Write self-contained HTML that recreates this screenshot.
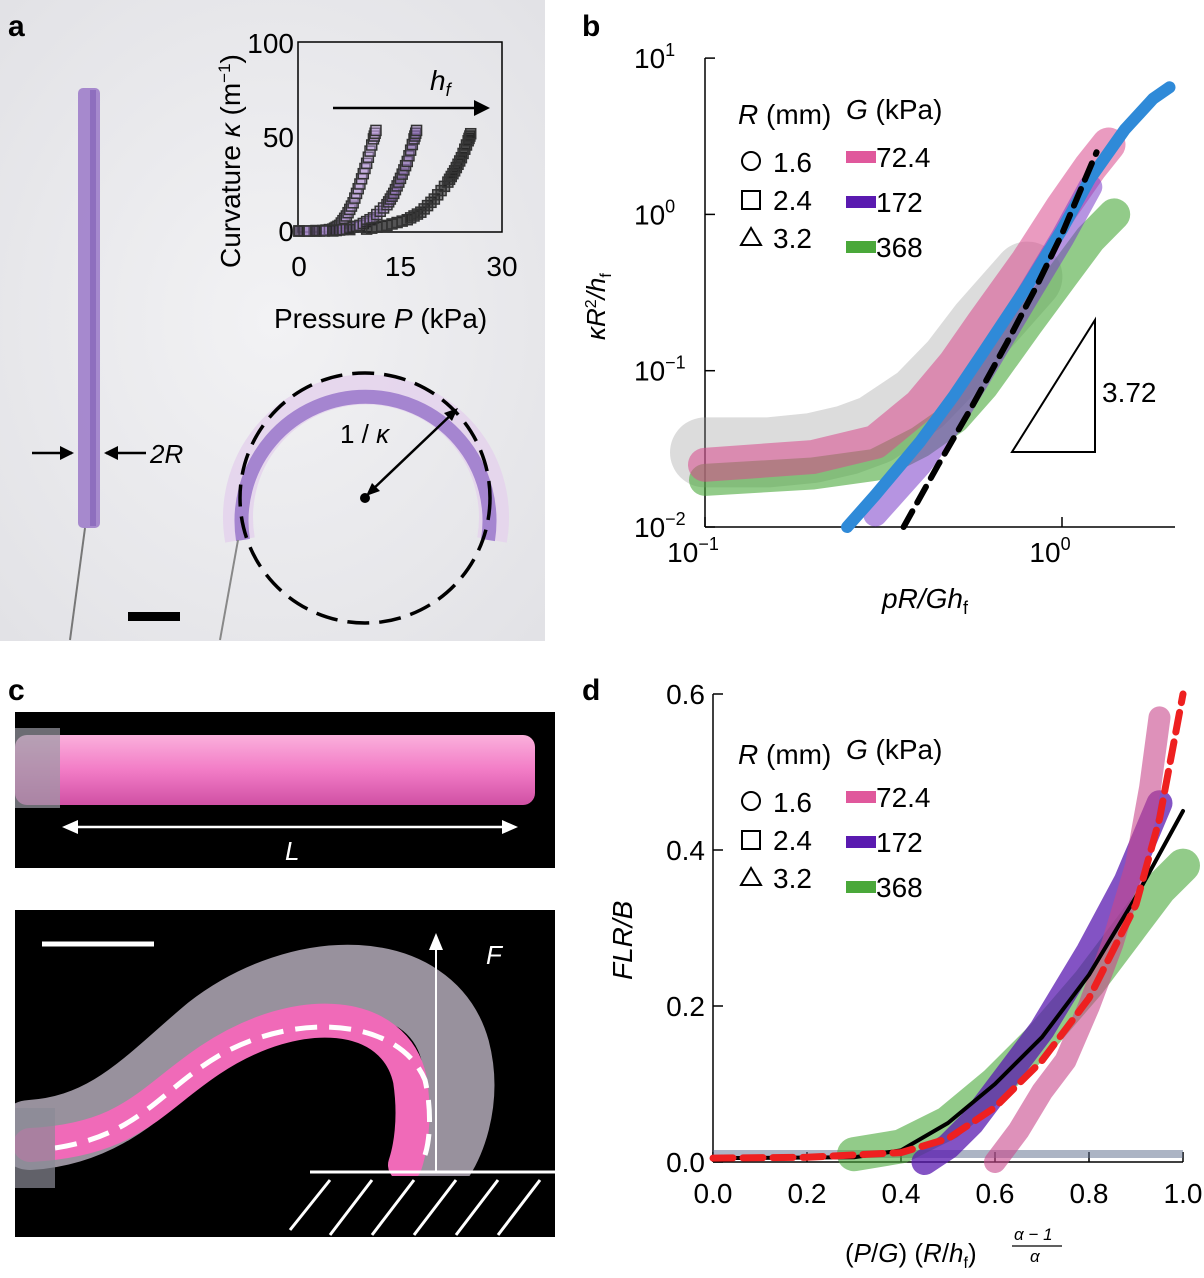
<!DOCTYPE html>
<html><head><meta charset="utf-8"><style>
html,body{margin:0;padding:0;background:#fff;}
svg{display:block;font-family:"Liberation Sans",sans-serif;}
</style></head><body>
<svg id="fig" width="1204" height="1278" viewBox="0 0 1204 1278" xmlns="http://www.w3.org/2000/svg">
<defs>
<radialGradient id="bg" cx="0.5" cy="0.5" r="0.7"><stop offset="0" stop-color="#f2f2f4"/><stop offset="1" stop-color="#e2e2e6"/></radialGradient>
<linearGradient id="pinkbar" x1="0" y1="0" x2="0" y2="1"><stop offset="0" stop-color="#fbb0dc"/><stop offset="0.5" stop-color="#f27cc6"/><stop offset="1" stop-color="#d050a4"/></linearGradient>
<clipPath id="clipc"><rect x="15" y="910" width="540" height="327"/></clipPath>
</defs>
<!-- Panel a -->
<g>
<rect x="0" y="0" width="545" height="641" fill="url(#bg)"/>
<text x="8" y="36" font-size="30" font-weight="bold">a</text>
<rect x="78" y="88" width="22" height="440" rx="5" fill="#9a78c8" opacity="0.85"/>
<rect x="90" y="90" width="6" height="436" fill="#7e5cb4" opacity="0.6"/>
<line x1="85" y1="528" x2="70" y2="640" stroke="#777" stroke-width="2"/>
<line x1="32" y1="453" x2="72" y2="453" stroke="#000" stroke-width="2.5"/>
<polygon points="74,453 60,446 60,460" fill="#000"/>
<line x1="106" y1="453" x2="146" y2="453" stroke="#000" stroke-width="2.5"/>
<polygon points="104,453 118,446 118,460" fill="#000"/>
<text x="150" y="463" font-size="26" font-style="italic">2R</text>
<rect x="128" y="612" width="52" height="9" fill="#000"/>
<path d="M240,540 A128,128 0 1,1 492,540" fill="none" stroke="#e4d4ec" stroke-width="30" opacity="0.9"/>
<path d="M243,540 A124,124 0 1,1 488,540" fill="none" stroke="#a585d0" stroke-width="14"/>
<line x1="238" y1="540" x2="220" y2="640" stroke="#888" stroke-width="2"/>
<circle cx="365" cy="498" r="125" fill="none" stroke="#000" stroke-width="3.5" stroke-dasharray="22,10"/>
<circle cx="365" cy="498" r="5" fill="#000"/>
<line x1="370" y1="492" x2="454" y2="412" stroke="#000" stroke-width="2.5"/>
<polygon points="458,408 444,413 452,421" fill="#000"/>
<polygon points="366,496 380,491 372,483" fill="#000"/>
<text x="340" y="443" font-size="26">1 / <tspan font-style="italic">κ</tspan></text>
<g id="inset">
<rect x="298" y="42" width="204" height="190" fill="none" stroke="#000" stroke-width="1.5"/>
<line x1="333" y1="108" x2="480" y2="108" stroke="#000" stroke-width="2.5"/>
<polygon points="490,108 474,100 474,116" fill="#000"/>
<text x="430" y="90" font-size="28" font-style="italic">h<tspan font-size="18" dy="6">f</tspan></text>
<text x="274" y="328" font-size="28">Pressure <tspan font-style="italic">P</tspan> (kPa)</text>
<text transform="translate(240,268) rotate(-90)" font-size="28">Curvature <tspan font-style="italic">κ</tspan> (m<tspan font-size="17" dy="-10">−1</tspan><tspan dy="10">)</tspan></text>
</g>
</g>
<!-- Panel b -->
<g id="pb">
<text x="582" y="36" font-size="30" font-weight="bold">b</text>
<line x1="705" y1="527" x2="1175" y2="527" stroke="#000" stroke-width="1.5"/>
<line x1="705" y1="58" x2="705" y2="527" stroke="#000" stroke-width="1.5"/>
<text x="882" y="608" font-size="28" font-style="italic">pR/Gh<tspan font-size="18" dy="6" font-style="normal">f</tspan></text>
<text transform="translate(605,340) rotate(-90)" font-size="26"><tspan font-style="italic">κR</tspan><tspan font-size="16" dy="-9">2</tspan><tspan dy="9" font-style="italic">/h</tspan><tspan font-size="16" dy="6">f</tspan></text>
<polygon points="1012,452 1095,452 1095,320" fill="none" stroke="#000" stroke-width="2"/>
<text x="1102" y="402" font-size="28">3.72</text>
</g>
<!-- Panel c -->
<g>
<text x="8" y="700" font-size="30" font-weight="bold">c</text>
<rect x="15" y="712" width="540" height="156" fill="#000"/>
<rect x="15" y="735" width="520" height="70" rx="12" fill="url(#pinkbar)"/>
<rect x="15" y="728" width="45" height="80" fill="#9a9aa4" opacity="0.7"/>
<line x1="70" y1="827" x2="508" y2="827" stroke="#fff" stroke-width="2.5"/>
<polygon points="62,827 78,820 78,834" fill="#fff"/><polygon points="518,827 502,820 502,834" fill="#fff"/>
<text x="285" y="860" font-size="26" font-style="italic" fill="#fff">L</text>
<rect x="15" y="910" width="540" height="327" fill="#000"/>
<g clip-path="url(#clipc)">
<line x1="42" y1="944" x2="154" y2="944" stroke="#fff" stroke-width="5"/>
<path d="M30,1135 C110,1130 150,1080 210,1030 C300,960 430,960 455,1050 C468,1100 450,1150 430,1170" fill="none" stroke="#d8cfe0" stroke-width="70" stroke-linecap="round" opacity="0.7"/>
<path d="M30,1145 C130,1140 150,1100 210,1060 C300,1000 395,1010 410,1080 C416,1120 410,1150 405,1165" fill="none" stroke="#f06ab8" stroke-width="34" stroke-linecap="round"/>
<path d="M55,1148 C140,1135 160,1090 220,1055 C300,1010 400,1020 425,1080 C432,1110 430,1140 425,1155" fill="none" stroke="#fff" stroke-width="5" stroke-dasharray="22,12"/>
<rect x="15" y="1108" width="40" height="80" fill="#8a8a96" opacity="0.7"/>
<line x1="436" y1="1172" x2="436" y2="945" stroke="#fff" stroke-width="2"/>
<polygon points="436,933 429,950 443,950" fill="#fff"/>
<text x="486" y="964" font-size="26" font-style="italic" fill="#fff">F</text>
<rect x="290" y="1176" width="265" height="61" fill="#000"/>
<line x1="310" y1="1172" x2="555" y2="1172" stroke="#fff" stroke-width="3"/>
<g stroke="#fff" stroke-width="3">
<line x1="290" y1="1230" x2="330" y2="1180"/><line x1="330" y1="1235" x2="372" y2="1180"/><line x1="372" y1="1235" x2="414" y2="1180"/><line x1="414" y1="1235" x2="456" y2="1180"/><line x1="456" y1="1235" x2="498" y2="1180"/><line x1="498" y1="1235" x2="540" y2="1180"/>
</g>
</g>
</g>
<!-- Panel d -->
<g id="pd">
<text x="582" y="700" font-size="30" font-weight="bold">d</text>
<line x1="713" y1="1162" x2="1183" y2="1162" stroke="#000" stroke-width="1.5"/>
<line x1="713" y1="694" x2="713" y2="1162" stroke="#000" stroke-width="1.5"/>
<text x="845" y="1262" font-size="26">(<tspan font-style="italic">P</tspan>/<tspan font-style="italic">G</tspan>) (<tspan font-style="italic">R</tspan>/<tspan font-style="italic">h</tspan><tspan font-size="16" dy="6">f</tspan><tspan dy="-6">)</tspan></text>
<text x="1014" y="1240" font-size="17" font-style="italic">α − 1</text>
<line x1="1012" y1="1246" x2="1062" y2="1246" stroke="#000" stroke-width="1.2"/>
<text x="1030" y="1262" font-size="17" font-style="italic">α</text>
<text transform="translate(632,980) rotate(-90)" font-size="28" font-style="italic">FLR/B</text>
</g>
</svg>
<script>
const NS='http://www.w3.org/2000/svg';
const insetXTicks=[0,15,30];
const insetYTicks=[0,50,100];
const insetP1=[0,3,5,6,7,8,9,10,11,11.5];
const insetK1=[0,0,1,3,8,15,25,36,49,55];
const insetP2=[0,5,7,9,11,13,14,15,16,17,17.5];
const insetK2=[0,0,1,3,7,14,20,28,37,49,55];
const insetP3=[0,10,13,16,18,20,22,23,24,25,25.5];
const insetK3=[0,1,3,6,10,17,26,32,39,48,53];
const bXTicks=[0.1,1];
const bXTickLabels=['10','10'];
const bXTickExp=['−1','0'];
const bYTicks=[10,1,0.1,0.01];
const bYTickExp=['1','0','−1','−2'];
const bGrayX=[0.1,0.15,0.2,0.25,0.3,0.4,0.5,0.6,0.8];
const bGrayY=[0.03,0.03,0.032,0.036,0.042,0.065,0.11,0.19,0.4];
const bPinkX=[0.1,0.2,0.3,0.4,0.5,0.6,0.8,1.0,1.2,1.35];
const bPinkY=[0.025,0.028,0.035,0.06,0.11,0.2,0.5,1.1,2.0,2.8];
const bGreenX=[0.1,0.2,0.3,0.4,0.5,0.6,0.8,1.0,1.2,1.4];
const bGreenY=[0.02,0.022,0.025,0.035,0.05,0.08,0.2,0.4,0.7,1.0];
const bPurpleX=[0.3,0.4,0.5,0.6,0.8,1.0,1.2];
const bPurpleY=[0.012,0.025,0.05,0.1,0.3,0.7,1.5];
const bBlueX=[0.25,0.3,0.4,0.5,0.6,0.8,1.0,1.2,1.5,1.8,2.0];
const bBlueY=[0.01,0.016,0.035,0.07,0.13,0.35,0.8,1.7,3.5,5.5,6.5];
const bDashX=[0.36,0.45,0.55,0.7,0.85,1.0,1.15,1.25];
const bDashY=[0.01,0.025,0.055,0.15,0.35,0.75,1.6,2.5];
const dXTicks=[0,0.2,0.4,0.6,0.8,1.0];
const dYTicks=[0,0.2,0.4,0.6];
const dTickFmt=['0.0','0.2','0.4','0.6','0.8','1.0'];
const dGreenX=[0.3,0.4,0.5,0.6,0.7,0.8,0.9,0.95,1.0];
const dGreenY=[0.01,0.02,0.05,0.1,0.16,0.23,0.31,0.35,0.38];
const dPurpleX=[0.45,0.5,0.55,0.6,0.7,0.8,0.88,0.95];
const dPurpleY=[0.0,0.02,0.05,0.09,0.17,0.27,0.36,0.46];
const dPinkX=[0.6,0.65,0.7,0.75,0.8,0.85,0.9,0.93,0.95];
const dPinkY=[0.0,0.04,0.09,0.13,0.2,0.28,0.38,0.48,0.57];
const dBlackX=[0.0,0.3,0.4,0.5,0.6,0.7,0.8,0.9,1.0];
const dBlackY=[0.005,0.006,0.015,0.05,0.1,0.16,0.24,0.34,0.45];
const dRedX=[0.0,0.2,0.4,0.5,0.6,0.7,0.8,0.9,0.95,1.0];
const dRedY=[0.005,0.006,0.012,0.03,0.07,0.13,0.21,0.33,0.44,0.6];

const xa=v=>299+v*(203/30), ya=v=>231-v*1.88;
const xb=v=>705+357*Math.log10(v/0.1), yb=v=>527-156.3*(Math.log10(v)+2);
const xd=v=>713+470*v, yd=v=>1162-780*v;

function mk(tag,attrs,parent){const e=document.createElementNS(NS,tag);for(const k in attrs)e.setAttribute(k,attrs[k]);parent.appendChild(e);return e;}
function line(xs,ys,fx,fy,parent,stroke,w,op,dash){
  const p=xs.map((x,i)=>fx(x).toFixed(1)+','+fy(ys[i]).toFixed(1)).join(' ');
  const e=mk('polyline',{points:p,fill:'none',stroke:stroke,'stroke-width':w,'stroke-opacity':op,'stroke-linejoin':'round','stroke-linecap':'round'},parent);
  if(dash)e.setAttribute('stroke-dasharray',dash);
  return e;
}
const inset=document.getElementById('inset');
insetXTicks.forEach(t=>{const e=mk('text',{x:xa(t),y:276,'font-size':28,'text-anchor':'middle'},inset);e.textContent=t;

});
insetYTicks.forEach(t=>{const e=mk('text',{x:294,y:ya(t)+10,'font-size':28,'text-anchor':'end'},inset);e.textContent=t;

});
[[insetP1,insetK1,'#b89ad8'],[insetP2,insetK2,'#8a6cb0'],[insetP3,insetK3,'#222']].forEach((s,j)=>{
  const g=mk('g',{},inset);
  
  
  for(let i=0;i<s[0].length-1;i++){
    for(let k=0;k<4;k++){const f=k/4;const P=s[0][i]+(s[0][i+1]-s[0][i])*f;const K=s[1][i]+(s[1][i+1]-s[1][i])*f;
      mk('rect',{x:xa(P)-5,y:ya(K)-5,width:10,height:10,fill:s[2],'fill-opacity':0.5,stroke:'#333','stroke-width':1.5},g);}
  }
});
const pb=document.getElementById('pb');
bXTicks.forEach((t,i)=>{mk('line',{x1:xb(t),y1:527,x2:xb(t),y2:517,stroke:'#000','stroke-width':1.5},pb);
 const e=mk('text',{x:xb(t)-12,y:562,'font-size':28,'text-anchor':'middle'},pb);e.innerHTML=bXTickLabels[i]+'<tspan font-size="18" dy="-12">'+bXTickExp[i]+'</tspan>';
 
 });
bYTicks.forEach((t,i)=>{mk('line',{x1:705,y1:yb(t),x2:715,y2:yb(t),stroke:'#000','stroke-width':1.5},pb);
 const e=mk('text',{x:634,y:yb(t)+10,'font-size':28},pb);e.innerHTML='10<tspan font-size="18" dy="-12">'+bYTickExp[i]+'</tspan>';
 
 });
const gb=mk('g',{},pb);


line(bGrayX,bGrayY,xb,yb,gb,'#9a9a9a',70,0.35);
line(bGreenX,bGreenY,xb,yb,gb,'#4aa83a',32,0.6);
line(bPinkX,bPinkY,xb,yb,gb,'#d8488c',34,0.55);
line(bPurpleX,bPurpleY,xb,yb,gb,'#7a3cc8',24,0.55);
line(bBlueX,bBlueY,xb,yb,gb,'#2f8ad8',12,1);
line(bDashX,bDashY,xb,yb,gb,'#000',6,1,'18,10');
function legend(parent,x0,y0,pre){
  const g=mk('g',{},parent);
  
  
  const t=(x,y,s,h)=>{const e=mk('text',{x:x,y:y,'font-size':28},g);e.innerHTML=h||s;return e;};
  t(x0,y0,'','<tspan font-style="italic">R</tspan> (mm)');
  t(x0+108,y0-5,'','<tspan font-style="italic">G</tspan> (kPa)');
  mk('circle',{cx:x0+13,cy:y0+37,r:9,fill:'none',stroke:'#000','stroke-width':2},g);t(x0+35,y0+48,'1.6');
  mk('rect',{x:x0+4,y:y0+67,width:18,height:18,fill:'none',stroke:'#000','stroke-width':2},g);t(x0+35,y0+86,'2.4');
  mk('polygon',{points:`${x0+13},${y0+104} ${x0+3},${y0+121} ${x0+23},${y0+121}`,fill:'none',stroke:'#000','stroke-width':2},g);t(x0+35,y0+124,'3.2');
  [['#e0589c','72.4',33],['#5a1ab0','172',78],['#4aa83a','368',123]].forEach(c=>{mk('rect',{x:x0+108,y:y0+c[2]-6,width:30,height:12,fill:c[0]},g);t(x0+138,y0+c[2]+10,c[1]);});
}
legend(pb,738,124,'b');
const pd=document.getElementById('pd');
dXTicks.forEach((t,i)=>{mk('line',{x1:xd(t),y1:1162,x2:xd(t),y2:1152,stroke:'#000','stroke-width':1.5},pd);
 const e=mk('text',{x:xd(t),y:1203,'font-size':28,'text-anchor':'middle'},pd);e.textContent=dTickFmt[i];
 
 });
dYTicks.forEach((t,i)=>{mk('line',{x1:713,y1:yd(t),x2:723,y2:yd(t),stroke:'#000','stroke-width':1.5},pd);
 const e=mk('text',{x:705,y:yd(t)+10,'font-size':28,'text-anchor':'end'},pd);e.textContent=dTickFmt[i];
 
 });
const gd=mk('g',{},pd);


mk('rect',{x:713,y:1150,width:470,height:8,fill:'#5a6a8a','fill-opacity':0.5},gd);
line(dGreenX,dGreenY,xd,yd,gd,'#4aa83a',34,0.6);
line(dPurpleX,dPurpleY,xd,yd,gd,'#5a1ab0',26,0.75);
line(dPinkX,dPinkY,xd,yd,gd,'#c8488c',22,0.6);
line(dBlackX,dBlackY,xd,yd,gd,'#000',4,1);
line(dRedX,dRedY,xd,yd,gd,'#ee2020',7,1,'20,10');
legend(pd,738,764,'d');
</script>
</body></html>
